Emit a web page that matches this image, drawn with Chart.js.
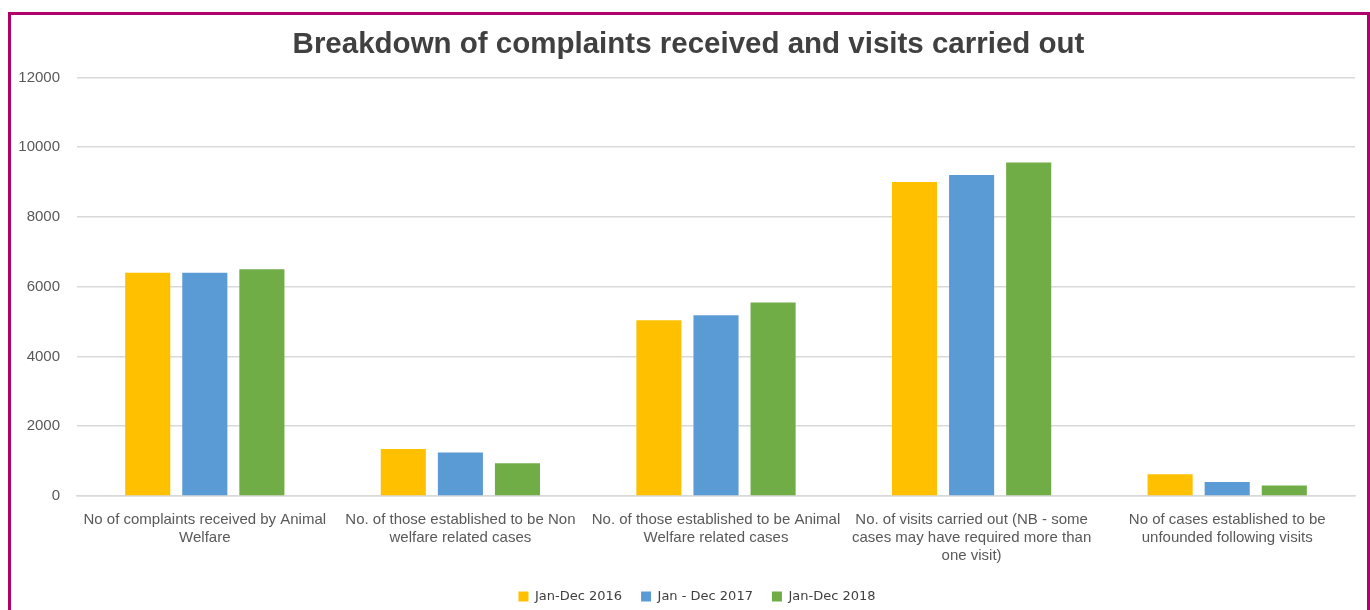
<!DOCTYPE html>
<html>
<head>
<meta charset="utf-8">
<script src="https://cdn.jsdelivr.net/npm/chart.js@4"></script>
<style>
  html, body { margin: 0; padding: 0; background: #fff; }
  #wrap { position: relative; width: 1370px; height: 610px; }
  #frame {
    position: absolute; left: 8px; top: 12px; width: 1356px; height: 620px;
    border: 3px solid #B0006A; pointer-events: none;
  }
</style>
</head>
<body>
<div id="wrap">
  <canvas id="chart" width="1370" height="610"></canvas>
  <div id="frame"></div>
</div>
<script>
const categories = [
  ["No of complaints received by Animal", "Welfare"],
  ["No. of those established to be Non", "welfare related cases"],
  ["No. of those established to be Animal", "Welfare related cases"],
  ["No. of visits carried out (NB - some", "cases may have required more than", "one visit)"],
  ["No of cases established to be", "unfounded following visits"]
];
const seriesNames = ["Jan-Dec 2016", "Jan - Dec 2017", "Jan-Dec 2018"];
const values2016 = [6400, 1350, 5040, 9000, 620];
const values2017 = [6400, 1250, 5180, 9200, 400];
const values2018 = [6500, 940, 5550, 9560, 300];
const seriesColors = ["#FFC000", "#5B9BD5", "#70AD47"];

const ctx = document.getElementById('chart').getContext('2d');

const datasets = [values2016, values2017, values2018].map((vals, i) => ({
  label: seriesNames[i],
  data: vals,
  backgroundColor: seriesColors[i],
  borderWidth: 0,
  categoryPercentage: 0.67,
  barPercentage: 0.79
}));

// shift title and legend so they centre over the frame rather than the canvas
const centerShift = {
  id: 'centerShift',
  afterLayout(chart) {
    if (chart.titleBlock) chart.titleBlock.left += 22;
    if (chart.legend) chart.legend.left += 39;
  }
};

new Chart(ctx, {
  type: 'bar',
  data: { labels: categories, datasets: datasets },
  plugins: [centerShift],
  options: {
    responsive: false,
    animation: false,
    layout: { padding: { left: 0, right: 15, top: 0, bottom: -3 } },
    scales: {
      x: {
        grid: { display: false, drawTicks: false },
        border: { color: '#d9d9d9', width: 1.5 },
        ticks: {
          color: '#595959',
          font: { family: 'Liberation Sans, Arial, sans-serif', size: 15 },
          padding: 15,
          maxRotation: 0,
          autoSkip: false
        },
        afterFit: (scale) => { scale.height = 75; }
      },
      y: {
        min: 0,
        max: 12000,
        ticks: {
          stepSize: 2000,
          color: '#595959',
          font: { family: 'Liberation Sans, Arial, sans-serif', size: 15 },
          padding: 17,
          callback: (v) => String(v)
        },
        grid: { color: '#d9d9d9', lineWidth: 1.5, drawTicks: false },
        border: { display: false },
        afterFit: (scale) => { scale.width = 77; }
      }
    },
    plugins: {
      title: {
        display: true,
        text: 'Breakdown of complaints received and visits carried out',
        color: '#404040',
        font: { family: 'Liberation Sans, Arial, sans-serif', size: 29.5, weight: 'bold' },
        padding: { top: 27, bottom: 15 }
      },
      legend: {
        position: 'bottom',
        labels: {
          color: '#404040',
          font: { family: 'DejaVu Sans, Verdana, sans-serif', size: 13 },
          boxWidth: 10,
          boxHeight: 10,
          padding: 19
        }
      },
      tooltip: { enabled: false }
    }
  }
});
</script>
</body>
</html>
